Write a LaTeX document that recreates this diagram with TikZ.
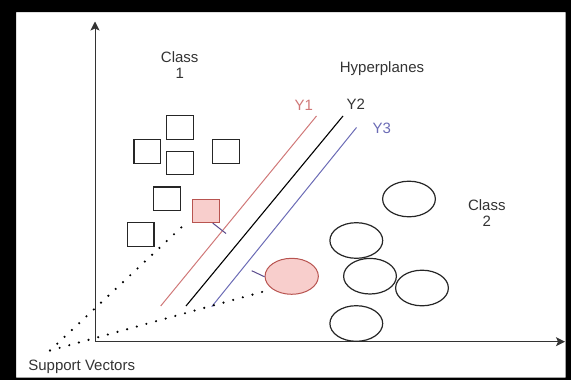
\documentclass[tikz,border=0pt]{standalone}
\usepackage{fontspec}
\setmainfont{Liberation Sans}
\usetikzlibrary{shapes.geometric,arrows.meta}

\definecolor{txt}{HTML}{333333}
\definecolor{hypred}{HTML}{D07878}
\definecolor{hypblue}{HTML}{6B6BB5}
\definecolor{svfill}{HTML}{F8CECC}
\definecolor{svline}{HTML}{B85450}
\definecolor{link}{HTML}{5A4B8C}

\tikzset{
  lbl/.style={inner sep=0pt, text=txt, font=\fontsize{15}{16}\selectfont, align=center},
  pt1/.style={draw=black!85, line width=1.2pt, minimum width=26.5pt, minimum height=23.6pt, inner sep=0pt, rectangle},
  pt2/.style={draw=black!85, line width=1.2pt, minimum width=52.8pt, minimum height=35.6pt, inner sep=0pt, ellipse},
  supp/.style={fill=svfill, draw=svline},
  axis/.style={draw=black!80, line width=1pt, -{Stealth[length=9pt,width=9pt,inset=2pt]}},
  dots/.style={line width=2.4pt, line cap=round, dash pattern=on 0pt off 10pt, black},
  linkline/.style={draw=link, line width=1pt}
}

\begin{document}
\begin{tikzpicture}[x=1pt, y=-1pt]
\useasboundingbox (0,0) rectangle (571,380);

% dark border round the drawing area
\fill[black, even odd rule] (0,0) rectangle (571,380) (16,12) rectangle (565.5,377.5);

% axes
\coordinate (origin) at (95,341.7);
\coordinate (ytop) at (95,21.5);
\coordinate (xend) at (565,341.7);
\draw[axis] (origin) -- (ytop);
\draw[axis] (origin) -- (xend);

% class 1 points
\node[pt1] (s1) at (180,127.5) {};
\node[pt1] (s2) at (147.3,151.3) {};
\node[pt1] (s3) at (180,163) {};
\node[pt1] (s4) at (226,151.3) {};
\node[pt1] (s5) at (167,198.8) {};
\node[pt1] (s6) at (140.8,234.5) {};
\node[pt1, supp, line width=1pt] (sv1) at (206.2,210.8) {};

% class 2 points
\node[pt2] (c1) at (409,199) {};
\node[pt2] (c2) at (356.3,240.5) {};
\node[pt2] (c3) at (370,276.2) {};
\node[pt2] (c4) at (422,288) {};
\node[pt2] (c5) at (356.3,323.5) {};
\node[pt2, supp, line width=1pt, minimum width=53.3pt, minimum height=36pt] (sv2) at (291.7,276.3) {};

% hyperplanes
\coordinate (y1a) at (160.7,306);
\coordinate (y1b) at (316.5,116);
\coordinate (y2a) at (186,306);
\coordinate (y2b) at (343,116);
\coordinate (y3a) at (211.7,306.7);
\coordinate (y3b) at (356.5,127.5);
\draw[hypred, line width=1pt] (y1a) -- (y1b);
\draw[black, line width=1.1pt] (y2a) -- (y2b);
\draw[hypblue, line width=1pt] (y3a) -- (y3b);

% margin ticks from the support vectors
\coordinate (m1) at (226,233.5);
\coordinate (m2) at (251.7,270.7);
\draw[linkline] (sv1.south east) ++(-7.2,0) coordinate (sv1foot) -- (m1);
\draw[linkline] (sv2.west) ++(0,0.5) coordinate (sv2side) -- (m2);

% support vector pointers
\coordinate (sv) at (50,350.5);
\coordinate (sv1end) at (186,223);
\coordinate (sv2end) at (271,289.5);
\draw[dots] (sv) -- (sv1end);
\draw[dots] (sv) -- (sv2end);

% labels
\node[lbl, anchor=base] (lc1) at (179.7,78.3) {Class\\1};
\node[lbl, anchor=base] (lc2) at (486.8,226) {Class\\2};
\node[lbl, anchor=base] (lhp) at (382,72.3) {Hyperplanes};
\node[lbl, anchor=base, text=hypred] (ly1) at (303.7,110) {Y1};
\node[lbl, anchor=base] (ly2) at (355.8,109.3) {Y2};
\node[lbl, anchor=base, text=hypblue] (ly3) at (381.8,133.3) {Y3};
\node[lbl, anchor=base] (lsv) at (81.7,370) {Support Vectors};
\end{tikzpicture}
\end{document}
